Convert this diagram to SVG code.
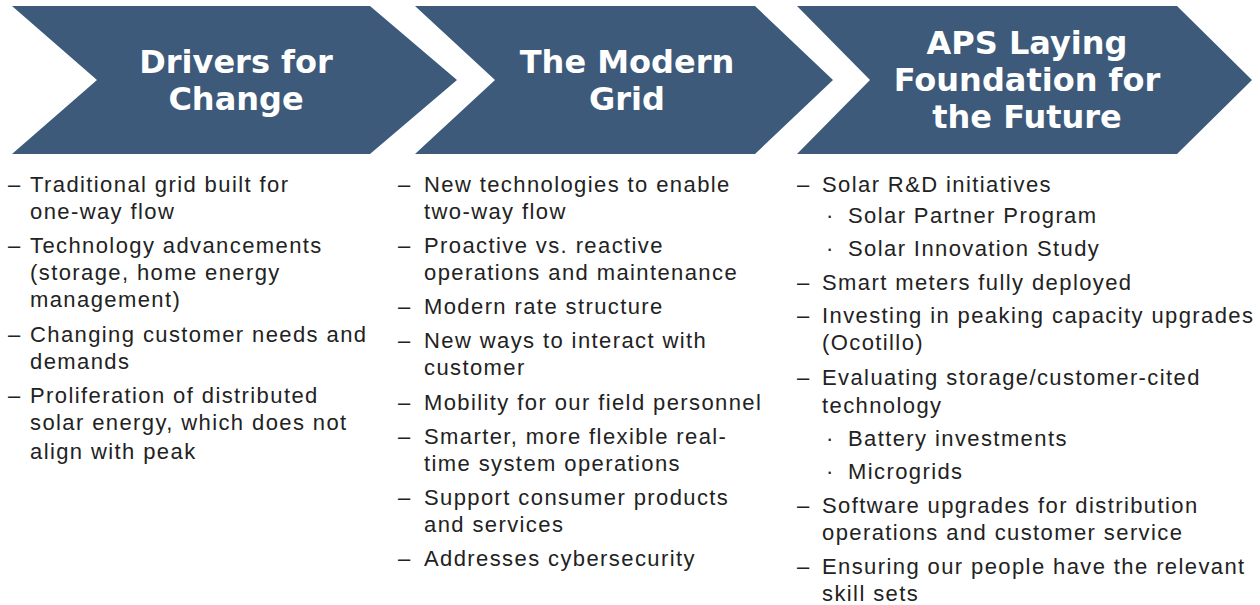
<svg xmlns="http://www.w3.org/2000/svg" width="1260" height="605" viewBox="0 0 1260 605">
  <style>
    .chev { fill: #3d5a7b; }
    .head { font-family: "DejaVu Sans", Verdana, sans-serif; font-weight: bold; font-size: 32px; fill: #ffffff; text-anchor: middle; }
    .body { font-family: "Liberation Sans", Arial, sans-serif; font-size: 22px; fill: #222222; letter-spacing: 1.4px; }
  </style>
  <rect width="1260" height="605" fill="#ffffff"/>

  <!-- Column 1: drivers -->
  <g id="drivers">
    <polygon class="chev" points="12,6 370,6 457,80 370,154 12,154 97,80"/>
    <text class="head" x="236" y="73">Drivers for</text>
    <text class="head" x="236" y="110">Change</text>
    <g class="body">
      <text x="8" y="192">–</text><text x="30" y="192">Traditional grid built for</text>
      <text x="30" y="219">one-way flow</text>
      <text x="8" y="253">–</text><text x="30" y="253">Technology advancements</text>
      <text x="30" y="280">(storage, home energy</text>
      <text x="30" y="307">management)</text>
      <text x="8" y="342">–</text><text x="30" y="342">Changing customer needs and</text>
      <text x="30" y="369">demands</text>
      <text x="8" y="403">–</text><text x="30" y="403">Proliferation of distributed</text>
      <text x="30" y="430">solar energy, which does not</text>
      <text x="30" y="459">align with peak</text>
    </g>
  </g>

  <!-- Column 2: modern grid -->
  <g id="modern-grid">
    <polygon class="chev" points="415,6 755,6 833,80 755,154 415,154 495,80"/>
    <text class="head" x="627" y="73">The Modern</text>
    <text class="head" x="627" y="110">Grid</text>
    <g class="body">
      <text x="398" y="192">–</text><text x="424" y="192">New technologies to enable</text>
      <text x="424" y="219">two-way flow</text>
      <text x="398" y="253">–</text><text x="424" y="253">Proactive vs. reactive</text>
      <text x="424" y="280">operations and maintenance</text>
      <text x="398" y="314">–</text><text x="424" y="314">Modern rate structure</text>
      <text x="398" y="348">–</text><text x="424" y="348">New ways to interact with</text>
      <text x="424" y="375">customer</text>
      <text x="398" y="410">–</text><text x="424" y="410">Mobility for our field personnel</text>
      <text x="398" y="444">–</text><text x="424" y="444">Smarter, more flexible real-</text>
      <text x="424" y="471">time system operations</text>
      <text x="398" y="505">–</text><text x="424" y="505">Support consumer products</text>
      <text x="424" y="532">and services</text>
      <text x="398" y="566">–</text><text x="424" y="566">Addresses cybersecurity</text>
    </g>
  </g>

  <!-- Column 3: foundation for the future -->
  <g id="foundation">
    <polygon class="chev" points="797,6 1177,6 1252,80 1177,154 797,154 870,80"/>
    <text class="head" x="1027" y="54">APS Laying</text>
    <text class="head" x="1027" y="91">Foundation for</text>
    <text class="head" x="1027" y="128">the Future</text>
    <g class="body">
      <text x="797" y="192">–</text><text x="822" y="192">Solar R&amp;D initiatives</text>
      <text x="826" y="223">·</text><text x="848" y="223">Solar Partner Program</text>
      <text x="826" y="256">·</text><text x="848" y="256">Solar Innovation Study</text>
      <text x="797" y="290">–</text><text x="822" y="290">Smart meters fully deployed</text>
      <text x="797" y="323">–</text><text x="822" y="323">Investing in peaking capacity upgrades</text>
      <text x="822" y="350">(Ocotillo)</text>
      <text x="797" y="385">–</text><text x="822" y="385">Evaluating storage/customer-cited</text>
      <text x="822" y="413">technology</text>
      <text x="826" y="446">·</text><text x="848" y="446">Battery investments</text>
      <text x="826" y="479">·</text><text x="848" y="479">Microgrids</text>
      <text x="797" y="513">–</text><text x="822" y="513">Software upgrades for distribution</text>
      <text x="822" y="540">operations and customer service</text>
      <text x="797" y="574">–</text><text x="822" y="574">Ensuring our people have the relevant</text>
      <text x="822" y="601">skill sets</text>
    </g>
  </g>
</svg>
